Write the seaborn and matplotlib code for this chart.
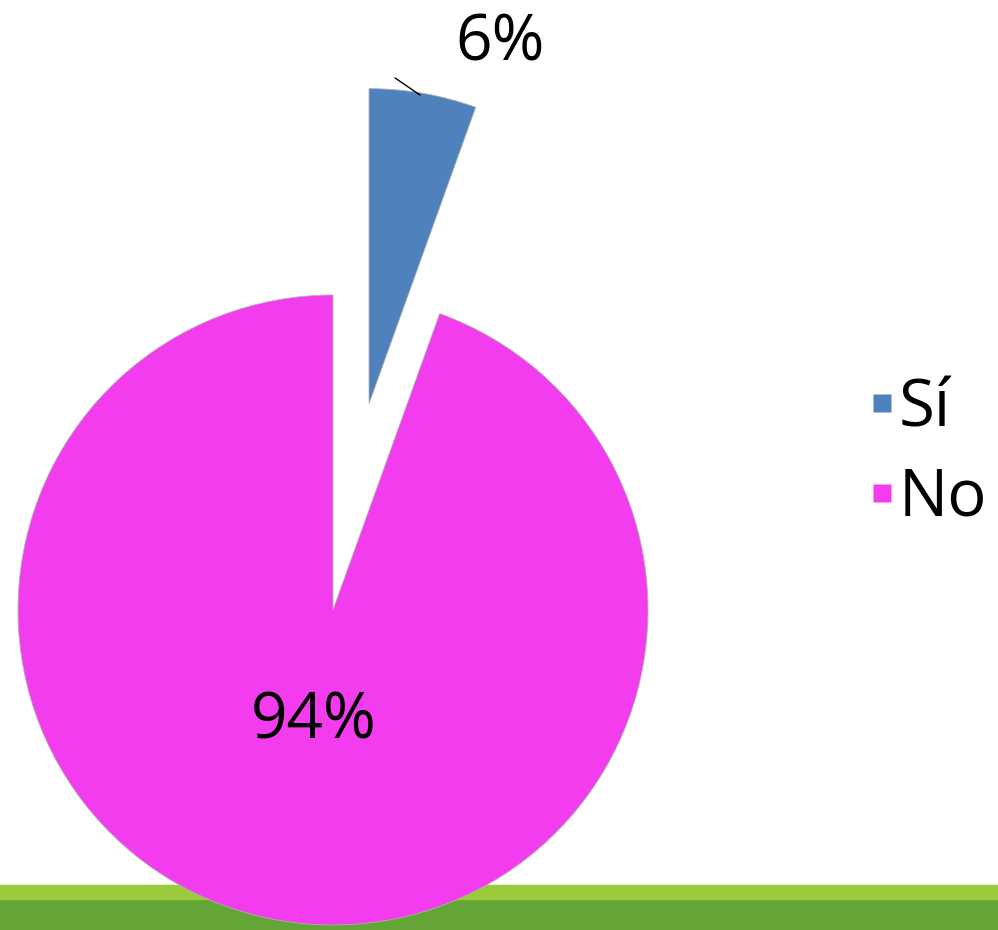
import matplotlib
matplotlib.use('Agg')
import matplotlib.pyplot as plt
from matplotlib.patches import Rectangle
from matplotlib.lines import Line2D
import seaborn as sns

labels = ['Sí', 'No']
values = [5.5, 94.5]
pct_labels = ['6%', '94%']
colors = ['#4F81BD', '#F23CEE']

sns.set_theme(style='white')
plt.rcParams['font.family'] = ['Open Sans', 'DejaVu Sans']

fig = plt.figure(figsize=(9.98, 9.30), dpi=100, facecolor='white')

# green bands at the bottom of the slide
fig.add_artist(Rectangle((0, 0), 1, 0.0333, transform=fig.transFigure,
                         color='#63A537', zorder=-1))
fig.add_artist(Rectangle((0, 0.0333), 1, 0.0151, transform=fig.transFigure,
                         color='#9BCB3B', zorder=-1))

ax = fig.add_axes([0, 0, 1, 1])
ax.set_facecolor('none')

wedges, texts, autotexts = ax.pie(
    values, colors=colors, startangle=90, counterclock=False,
    explode=[0.665, 0], autopct='%1.0f%%', pctdistance=0.36,
    wedgeprops=dict(edgecolor='#B0B0B0', linewidth=0.6),
    textprops=dict(fontsize=46, color='black'))
for t, s in zip(autotexts, pct_labels):
    t.set_text(s)

# move the small slice label above and add its leader line
autotexts[0].set_position((0.53, 1.80))
ax.plot([0.197, 0.276], [1.689, 1.635], color='black', lw=1.0)

ax.set_aspect('auto')
ax.set_xlim(-333 / 315, (998 - 333) / 315)
ax.set_ylim(-320 / 315, (930 - 320) / 315)
ax.axis('off')

handles = [Line2D([], [], linestyle='none', marker='s', markersize=13.5,
                  markerfacecolor=c, markeredgecolor='none') for c in colors]
fig.legend(handles, labels, loc='center left', bbox_to_anchor=(0.873, 0.512),
           frameon=False, fontsize=47, labelcolor='black', numpoints=1,
           handlelength=0.32, handletextpad=0.1, labelspacing=0.36,
           borderpad=0, borderaxespad=0)

fig.savefig('out.png', dpi=100, facecolor='white')
